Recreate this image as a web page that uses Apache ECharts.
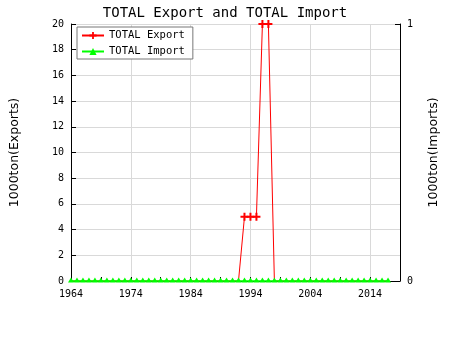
<!DOCTYPE html>
<html><head><meta charset="utf-8">
<script src="https://cdn.jsdelivr.net/npm/echarts@6/dist/echarts.min.js"></script>
<style>html,body{margin:0;padding:0;background:#fff}#c{width:450px;height:350px}</style>
</head><body><div id="c"></div>
<script>
var years = [];
for (var y = 1964; y <= 2017; y++) years.push(y);
var exportsVals = [0,0,0,0,0,0,0,0,0,0, 0,0,0,0,0,0,0,0,0,0, 0,0,0,0,0,0,0,0,0,5, 5,5,20,20,0,0,0,0,0,0, 0,0,0,0,0,0,0,0,0,0, 0,0,0,0];
var importsVals = [0,0,0,0,0,0,0,0,0,0, 0,0,0,0,0,0,0,0,0,0, 0,0,0,0,0,0,0,0,0,0, 0,0,0,0,0,0,0,0,0,0, 0,0,0,0,0,0,0,0,0,0, 0,0,0,0];
var leftTicks = [0,2,4,6,8,10,12,14,16,18,20];
var rightTicks = [0,1];
var xLabelYears = [1964,1974,1984,1994,2004,2014];

var mono = 'DejaVu Sans Mono';
var plus = 'path://M3,0h2v3h3v2h-3v3h-2v-3h-3v-2h3z';
var chart = echarts.init(document.getElementById('c'));
chart.setOption({
  animation: false,
  backgroundColor: '#ffffff',
  title: {text: 'TOTAL Export and TOTAL Import', left: 'center', top: 1,
    textStyle: {fontFamily: mono, fontSize: 14, fontWeight: 'normal', color: '#000'}},
  legend: {
    orient: 'vertical', left: 77, top: 27, padding: [3, 8, 2, 4],
    borderColor: '#777', borderWidth: 1, backgroundColor: '#fff',
    itemWidth: 22, itemHeight: 9, itemGap: 5,
    textStyle: {fontFamily: mono, fontSize: 10.5, color: '#000'},
    data: [{name: 'TOTAL Export'}, {name: 'TOTAL Import'}]
  },
  grid: {left: 70, right: 50, top: 24, bottom: 69},
  xAxis: [{
    type: 'value', min: 1964, max: 2019, interval: 5,
    axisLine: {show: true, lineStyle: {color: '#000'}},
    axisTick: {show: true, inside: true, length: 4, lineStyle: {color: '#000'}},
    axisLabel: {fontFamily: mono, fontSize: 10, color: '#000', margin: 8, showMaxLabel: false,
      formatter: function (v) { return xLabelYears.indexOf(v) >= 0 ? String(v) : ''; }},
    splitLine: {show: false}
  }, {
    type: 'value', min: 1964, max: 2019, interval: 10, position: 'bottom',
    axisLine: {show: false}, axisTick: {show: false}, axisLabel: {show: false},
    splitLine: {show: true, lineStyle: {color: '#d9d9d9'}}
  }],
  yAxis: [{
    type: 'value', min: 0, max: 20, interval: 2,
    name: '1000ton(Exports)', nameLocation: 'middle', nameGap: 50,
    nameTextStyle: {fontFamily: 'DejaVu Sans', fontSize: 12.5, color: '#000'},
    axisLine: {show: true, lineStyle: {color: '#000'}},
    axisTick: {show: true, inside: true, length: 5, lineStyle: {color: '#000'}},
    axisLabel: {fontFamily: mono, fontSize: 10, color: '#000', margin: 7,
      formatter: function (v) { return leftTicks.indexOf(v) >= 0 ? String(v) : ''; }},
    splitLine: {show: true, lineStyle: {color: '#d9d9d9'}}
  }, {
    type: 'value', min: 0, max: 1, interval: 1, position: 'right',
    name: '1000ton(Imports)', nameLocation: 'middle', nameGap: 27, nameRotate: 90,
    nameTextStyle: {fontFamily: 'DejaVu Sans', fontSize: 12.5, color: '#000'},
    axisLine: {show: true, lineStyle: {color: '#000'}},
    axisTick: {show: true, inside: true, length: 5, lineStyle: {color: '#000'}},
    axisLabel: {fontFamily: mono, fontSize: 10, color: '#000', margin: 7,
      formatter: function (v) { return rightTicks.indexOf(v) >= 0 ? String(v) : ''; }},
    splitLine: {show: false}
  }],
  series: [{
    name: 'TOTAL Export', type: 'line', xAxisIndex: 0, yAxisIndex: 0, z: 2,
    data: years.map(function (y, i) { return [y, exportsVals[i]]; }),
    symbol: plus, showAllSymbol: true, clip: false,
    symbolSize: function (v) { return v[1] > 0 ? 8 : 0; },
    lineStyle: {color: '#ff0000', width: 1}, itemStyle: {color: '#ff0000'}, color: '#ff0000'
  }, {
    name: 'TOTAL Import', type: 'line', xAxisIndex: 0, yAxisIndex: 1, z: 4,
    data: years.map(function (y, i) { return [y, importsVals[i]]; }),
    symbol: 'triangle', symbolSize: [6, 5], symbolOffset: [0, -1], showAllSymbol: true, clip: false,
    lineStyle: {color: '#00ff00', width: 1.5}, itemStyle: {color: '#00ff00'}, color: '#00ff00'
  }]
});
</script></body></html>
